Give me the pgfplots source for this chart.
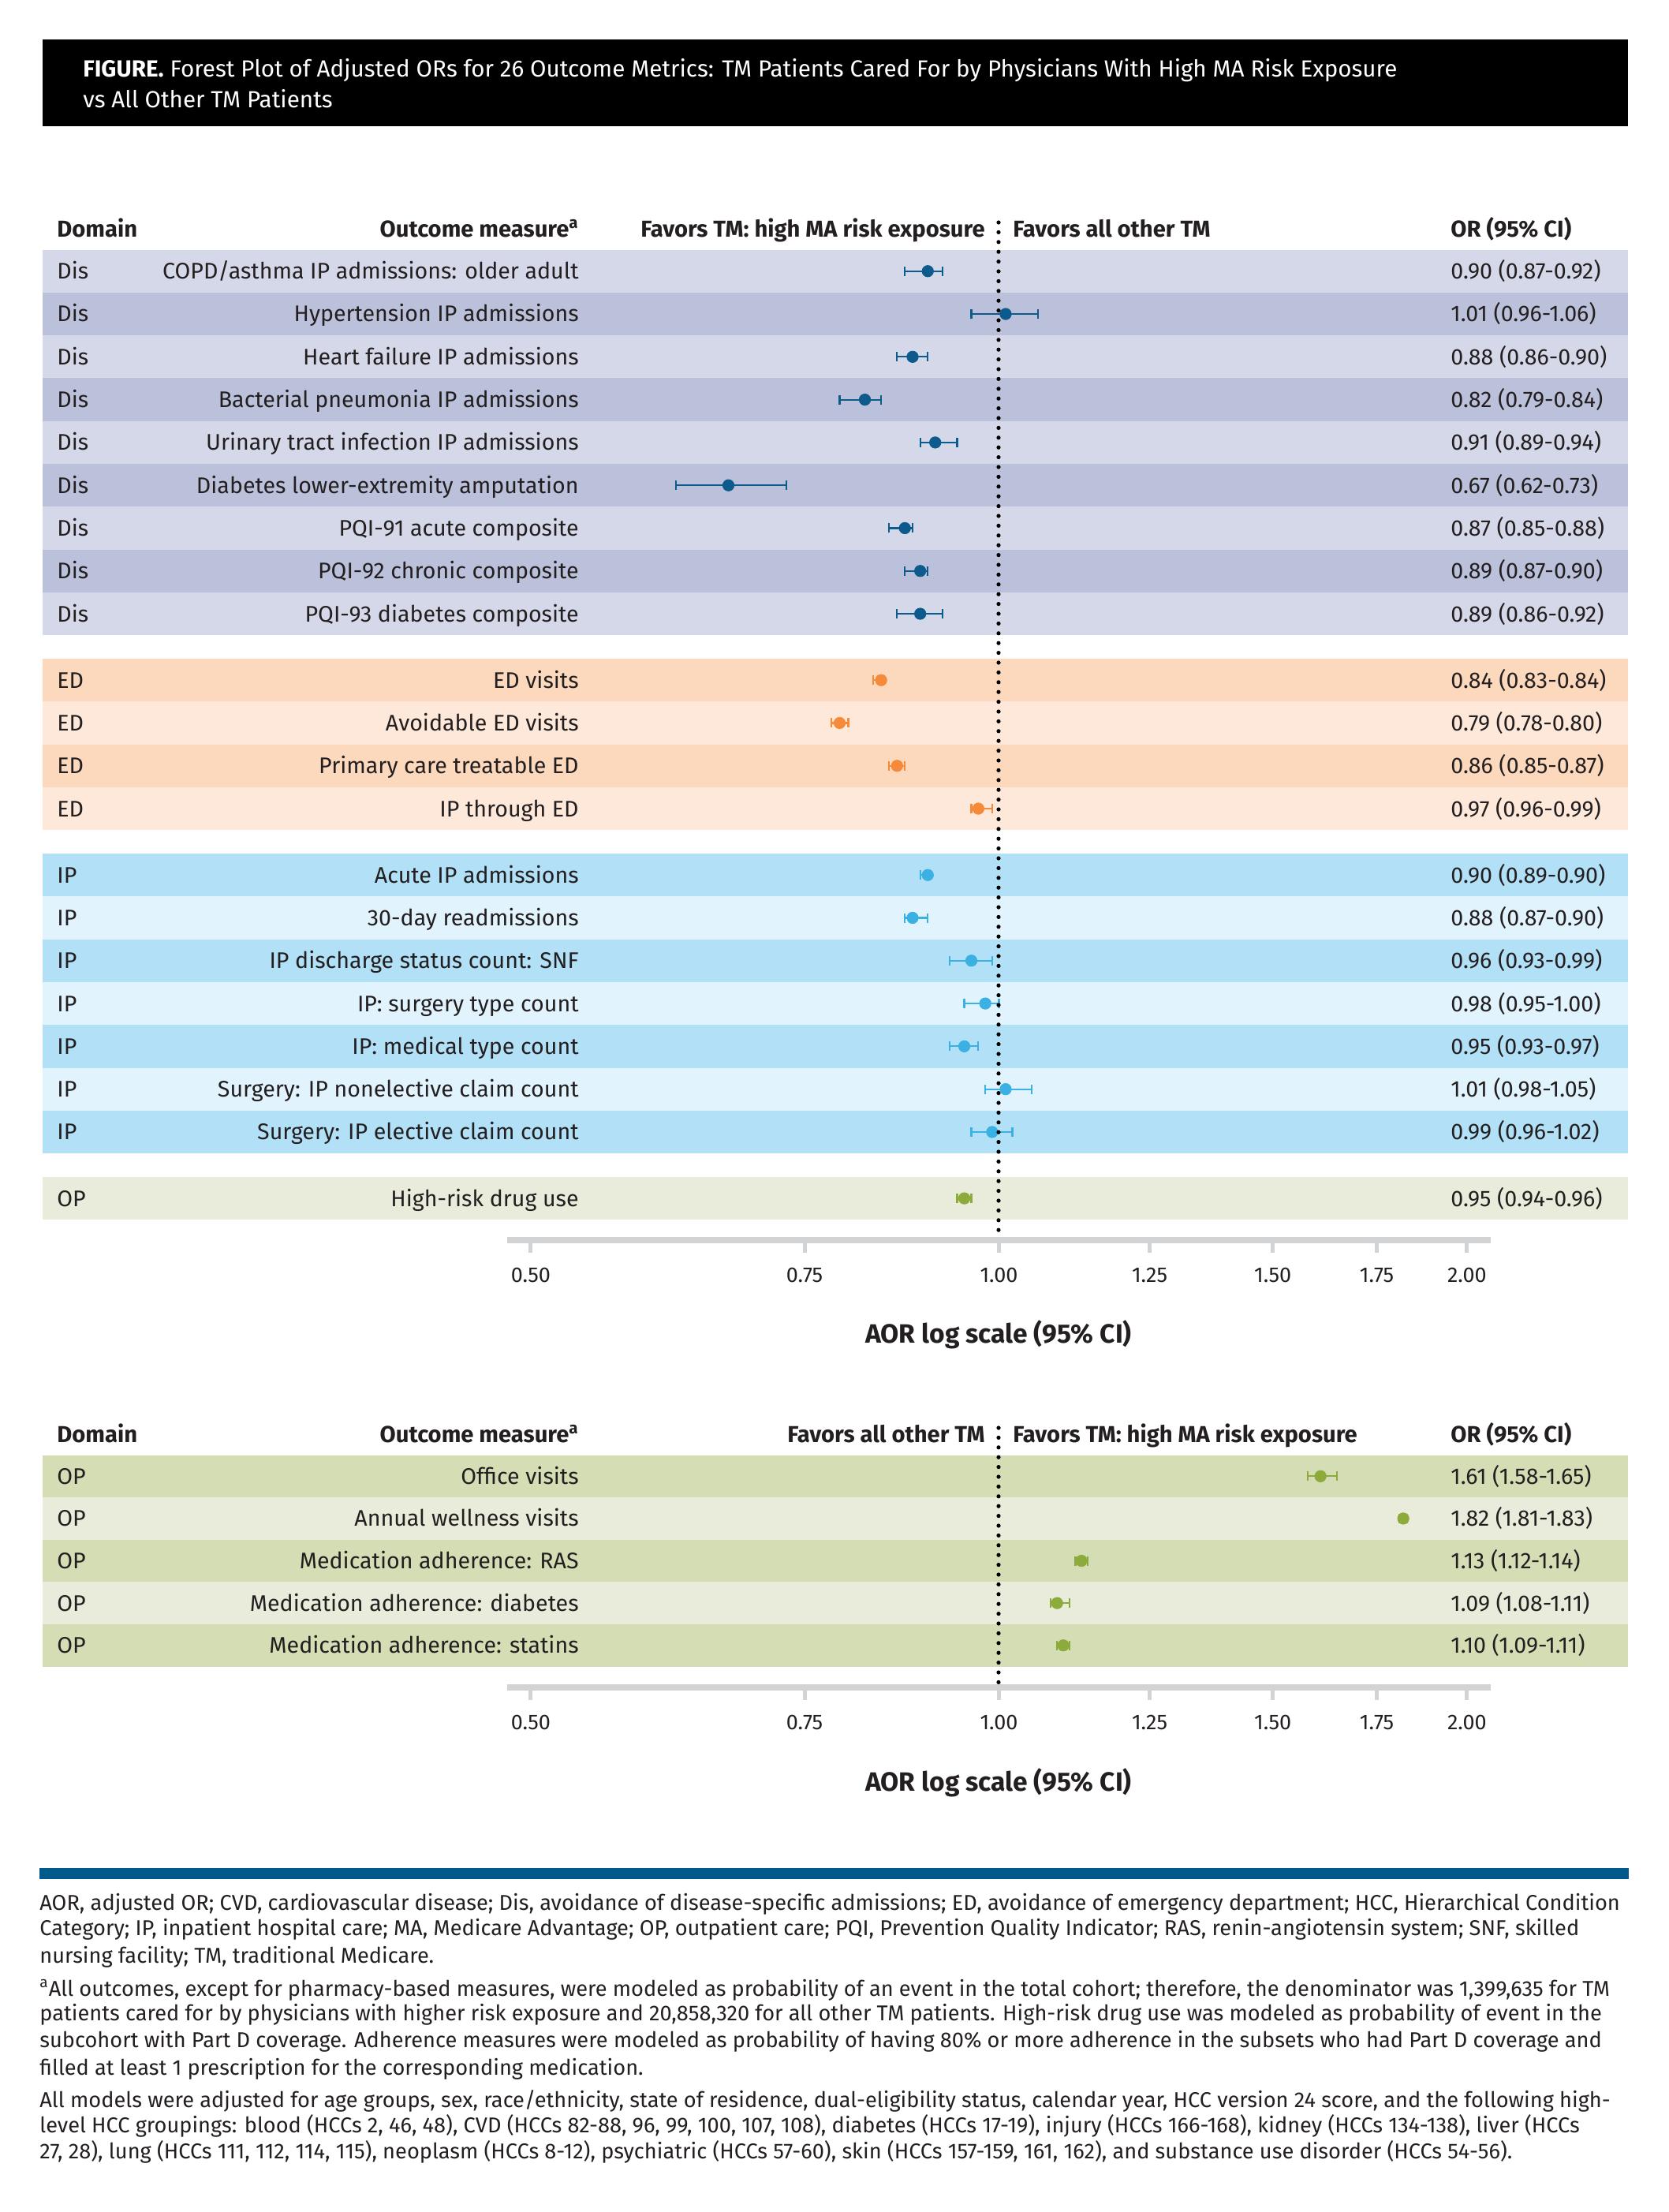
\documentclass[border=0pt]{standalone}
\usepackage{pgfplots}
\pgfplotsset{compat=1.18}
\usepackage{pgfplotstable}
\usepackage{fontspec}
\setmainfont{Fira Sans}

\definecolor{disL}{HTML}{D4D8E8}
\definecolor{disD}{HTML}{BBC1DA}
\definecolor{edD}{HTML}{FCD8BD}
\definecolor{edL}{HTML}{FDE8D9}
\definecolor{ipD}{HTML}{B1E0F7}
\definecolor{ipL}{HTML}{E1F3FC}
\definecolor{opL}{HTML}{E9ECDA}
\definecolor{opD}{HTML}{D5DDB5}
\definecolor{disM}{HTML}{0D5A8C}
\definecolor{edM}{HTML}{F58A3B}
\definecolor{ipM}{HTML}{3BB0E2}
\definecolor{opM}{HTML}{8DAA3C}
\definecolor{axgray}{HTML}{D1D3D4}
\definecolor{barblue}{HTML}{005A8C}
\definecolor{ink}{HTML}{231F20}

\newcommand\rowfont{\fontsize{14.3}{17}\selectfont}
\newcommand\headfont{\fontsize{14.6}{17}\selectfont\bfseries}
\newcommand\footfont{\fontsize{13.6}{16}\selectfont}

% row position (1,2,...) / OR / lower / upper
\pgfplotstableread{
y or lo hi
1 0.90 0.87 0.92
2 1.01 0.96 1.06
3 0.88 0.86 0.90
4 0.82 0.79 0.84
5 0.91 0.89 0.94
6 0.67 0.62 0.73
7 0.87 0.85 0.88
8 0.89 0.87 0.90
9 0.89 0.86 0.92
}\disdata
\pgfplotstableread{
y or lo hi
10.55 0.84 0.83 0.84
11.55 0.79 0.78 0.80
12.55 0.86 0.85 0.87
13.55 0.97 0.96 0.99
}\eddata
\pgfplotstableread{
y or lo hi
15.1 0.90 0.89 0.90
16.1 0.88 0.87 0.90
17.1 0.96 0.93 0.99
18.1 0.98 0.95 1.00
19.1 0.95 0.93 0.97
20.1 1.01 0.98 1.05
21.1 0.99 0.96 1.02
}\ipdata
\pgfplotstableread{
y or lo hi
22.65 0.95 0.94 0.96
}\optopdata
\pgfplotstableread{
y or lo hi
1 1.61 1.58 1.65
2 1.82 1.81 1.83
3 1.13 1.12 1.14
4 1.09 1.08 1.11
5 1.10 1.09 1.11
}\opbotdata

\newcommand\ciplot[2]{%
  \addplot[only marks, mark=none, forget plot,
    error bars/x dir=both, error bars/x explicit, error bars/error mark=|,
    error bars/error bar style={#1, line width=1.1pt, solid},
    error bars/error mark options={#1, line width=1.1pt, mark size=3pt, solid}]
    table[x=or, y expr=-\thisrow{y}, x error plus expr=\thisrow{hi}-\thisrow{or},
      x error minus expr=\thisrow{or}-\thisrow{lo}] {#2};
  \addplot[only marks, mark=*, mark size=3.6pt, color=#1]
    table[x=or, y expr=-\thisrow{y}] {#2};
}

\begin{document}
\begin{tikzpicture}
\path[use as bounding box] (0,0) rectangle (1057.5pt,-1402pt);

% ---- title bar (pixel units)
\begin{scope}[x=0.5pt, y=-0.5pt]
  \fill[black] (54,50) rectangle (2064,160);
  \node[anchor=base west, text=white, font=\fontsize{14.8}{17}\selectfont, inner sep=0pt] at (105,98)
    {\textbf{FIGURE.} Forest Plot of Adjusted ORs for 26 Outcome Metrics: TM Patients Cared For by Physicians With High MA Risk Exposure};
  \node[anchor=base west, text=white, font=\fontsize{14.8}{17}\selectfont, inner sep=0pt] at (105,137)
    {vs All Other TM Patients};
\end{scope}

% ---- top table
\begin{scope}[x=0.5pt, y=27.145pt, yshift=-144.705pt]
  \foreach \u in {1,3,5,7,9} \fill[disL] (54,{-\u+0.5}) rectangle (2064,{-\u-0.5});
  \foreach \u in {2,4,6,8} \fill[disD] (54,{-\u+0.5}) rectangle (2064,{-\u-0.5});
  \foreach \u in {10.55,12.55} \fill[edD] (54,{-\u+0.5}) rectangle (2064,{-\u-0.5});
  \foreach \u in {11.55,13.55} \fill[edL] (54,{-\u+0.5}) rectangle (2064,{-\u-0.5});
  \foreach \u in {15.1,17.1,19.1,21.1} \fill[ipD] (54,{-\u+0.5}) rectangle (2064,{-\u-0.5});
  \foreach \u in {16.1,18.1,20.1} \fill[ipL] (54,{-\u+0.5}) rectangle (2064,{-\u-0.5});
  \fill[opL] (54,-22.15) rectangle (2064,-23.15);

  \begin{scope}[every node/.style={inner sep=0pt, text=ink, font=\rowfont}]
  \foreach \u/\d/\n/\o in {
    1/Dis/{COPD/asthma IP admissions: older adult}/0.90 (0.87-0.92),
    2/Dis/Hypertension IP admissions/1.01 (0.96-1.06),
    3/Dis/Heart failure IP admissions/0.88 (0.86-0.90),
    4/Dis/Bacterial pneumonia IP admissions/0.82 (0.79-0.84),
    5/Dis/Urinary tract infection IP admissions/0.91 (0.89-0.94),
    6/Dis/Diabetes lower-extremity amputation/0.67 (0.62-0.73),
    7/Dis/PQI-91 acute composite/0.87 (0.85-0.88),
    8/Dis/PQI-92 chronic composite/0.89 (0.87-0.90),
    9/Dis/PQI-93 diabetes composite/0.89 (0.86-0.92),
    10.55/ED/ED visits/0.84 (0.83-0.84),
    11.55/ED/Avoidable ED visits/0.79 (0.78-0.80),
    12.55/ED/Primary care treatable ED/0.86 (0.85-0.87),
    13.55/ED/IP through ED/0.97 (0.96-0.99),
    15.1/IP/Acute IP admissions/0.90 (0.89-0.90),
    16.1/IP/30-day readmissions/0.88 (0.87-0.90),
    17.1/IP/IP discharge status count: SNF/0.96 (0.93-0.99),
    18.1/IP/IP: surgery type count/0.98 (0.95-1.00),
    19.1/IP/IP: medical type count/0.95 (0.93-0.97),
    20.1/IP/Surgery: IP nonelective claim count/1.01 (0.98-1.05),
    21.1/IP/Surgery: IP elective claim count/0.99 (0.96-1.02),
    22.65/OP/High-risk drug use/0.95 (0.94-0.96)} {
    \node[anchor=base west, yshift=-5pt] at (72,-\u) {\d};
    \node[anchor=base east, yshift=-5pt] at (734,-\u) {\n};
    \node[anchor=base west, yshift=-5pt] at (1839,-\u) {\o};
  }
  \end{scope}
\end{scope}

% ---- bottom table
\begin{scope}[x=0.5pt, y=26.8pt, yshift=-908.85pt]
  \foreach \u in {1,3,5} \fill[opD] (54,{-\u+0.5}) rectangle (2064,{-\u-0.5});
  \foreach \u in {2,4} \fill[opL] (54,{-\u+0.5}) rectangle (2064,{-\u-0.5});
  \begin{scope}[every node/.style={inner sep=0pt, text=ink, font=\rowfont}]
  \foreach \u/\n/\o in {
    1/Office visits/1.61 (1.58-1.65),
    2/Annual wellness visits/1.82 (1.81-1.83),
    3/Medication adherence: RAS/1.13 (1.12-1.14),
    4/Medication adherence: diabetes/1.09 (1.08-1.11),
    5/Medication adherence: statins/1.10 (1.09-1.11)} {
    \node[anchor=base west, yshift=-5pt] at (72,-\u) {OP};
    \node[anchor=base east, yshift=-5pt] at (734,-\u) {\n};
    \node[anchor=base west, yshift=-5pt] at (1839,-\u) {\o};
  }
  \end{scope}
\end{scope}

% ---- headers, axis titles, footnotes
\begin{scope}[x=0.5pt, y=-0.5pt, every node/.style={inner sep=0pt, text=ink}]
  \foreach \yy/\lt/\rt in {300/{Favors TM: high MA risk exposure}/{Favors all other TM},
                           1828/{Favors all other TM}/{Favors TM: high MA risk exposure}} {
    \node[anchor=base west, font=\headfont] at (72,\yy) {Domain};
    \node[anchor=base east, font=\headfont] at (734,\yy) {Outcome measure\textsuperscript{a}};
    \node[anchor=base east, font=\headfont] at (1249,\yy) {\lt};
    \node[anchor=base west, font=\headfont] at (1284,\yy) {\rt};
    \node[anchor=base west, font=\headfont] at (1839,\yy) {OR (95\% CI)};
  }
  \node[font=\fontsize{16.8}{19}\selectfont\bfseries] at (1266,1692) {AOR log scale (95\% CI)};
  \node[font=\fontsize{16.8}{19}\selectfont\bfseries] at (1266,2260) {AOR log scale (95\% CI)};

  \fill[barblue] (50,2368) rectangle (2065,2382);

  \begin{scope}[every node/.style={inner sep=0pt, text=ink, font=\footfont, anchor=base west}]
  \node at (50,2421) {AOR, adjusted OR; CVD, cardiovascular disease; Dis, avoidance of disease-specific admissions; ED, avoidance of emergency department; HCC, Hierarchical Condition};
  \node at (50,2453) {Category; IP, inpatient hospital care; MA, Medicare Advantage; OP, outpatient care; PQI, Prevention Quality Indicator; RAS, renin-angiotensin system; SNF, skilled};
  \node at (50,2488) {nursing facility; TM, traditional Medicare.};
  \node at (50,2530) {\textsuperscript{a}All outcomes, except for pharmacy-based measures, were modeled as probability of an event in the total cohort; therefore, the denominator was 1,399,635 for TM};
  \node at (50,2561) {patients cared for by physicians with higher risk exposure and 20,858,320 for all other TM patients. High-risk drug use was modeled as probability of event in the};
  \node at (50,2595) {subcohort with Part D coverage. Adherence measures were modeled as probability of having 80\% or more adherence in the subsets who had Part D coverage and};
  \node at (50,2630) {filled at least 1 prescription for the corresponding medication.};
  \node at (50,2671) {All models were adjusted for age groups, sex, race/ethnicity, state of residence, dual-eligibility status, calendar year, HCC version 24 score, and the following high-};
  \node at (50,2703) {level HCC groupings: blood (HCCs 2, 46, 48), CVD (HCCs 82-88, 96, 99, 100, 107, 108), diabetes (HCCs 17-19), injury (HCCs 166-168), kidney (HCCs 134-138), liver (HCCs};
  \node at (50,2736) {27, 28), lung (HCCs 111, 112, 114, 115), neoplasm (HCCs 8-12), psychiatric (HCCs 57-60), skin (HCCs 157-159, 161, 162), and substance use disorder (HCCs 54-56).};
  \end{scope}
\end{scope}

% ---- top forest plot
\begin{axis}[at={(321.5pt,-786pt)}, anchor=south west,
  scale only axis, width=623.5pt, height=627.7pt,
  xmode=log, xmin=0.4828, xmax=2.0714, ymin=-23.625, ymax=-0.5,
  axis x line=bottom, axis y line=none,
  axis line style={-, line width=4pt, axgray},
  xtick={0.5,0.75,1,1.25,1.5,1.75,2},
  xticklabels={0.50,0.75,1.00,1.25,1.50,1.75,2.00},
  minor xtick={},
  tick align=outside, major tick length=8pt,
  xtick style={line width=2.5pt, axgray},
  xticklabel style={font=\fontsize{13.5}{15}\selectfont, text=ink, yshift=-6pt},
  clip=false]
  \ciplot{disM}{\disdata}
  \ciplot{edM}{\eddata}
  \ciplot{ipM}{\ipdata}
  \ciplot{opM}{\optopdata}
\end{axis}

% ---- bottom forest plot
\begin{axis}[at={(321.5pt,-1069.5pt)}, anchor=south west,
  scale only axis, width=623.5pt, height=147.24pt,
  xmode=log, xmin=0.4828, xmax=2.0714, ymin=-5.994, ymax=-0.5,
  axis x line=bottom, axis y line=none,
  axis line style={-, line width=4pt, axgray},
  xtick={0.5,0.75,1,1.25,1.5,1.75,2},
  xticklabels={0.50,0.75,1.00,1.25,1.50,1.75,2.00},
  minor xtick={},
  tick align=outside, major tick length=8pt,
  xtick style={line width=2.5pt, axgray},
  xticklabel style={font=\fontsize{13.5}{15}\selectfont, text=ink, yshift=-6pt},
  clip=false]
  \ciplot{opM}{\opbotdata}
\end{axis}

% ---- reference lines at OR = 1
\begin{scope}[x=0.5pt, y=-0.5pt]
  \draw[black, line width=2.6pt, line cap=round, dash pattern=on 0pt off 6.2pt] (1266,282) -- (1266,1566);
  \draw[black, line width=2.6pt, line cap=round, dash pattern=on 0pt off 6.2pt] (1266,1810) -- (1266,2133);
\end{scope}
\end{tikzpicture}
\end{document}
